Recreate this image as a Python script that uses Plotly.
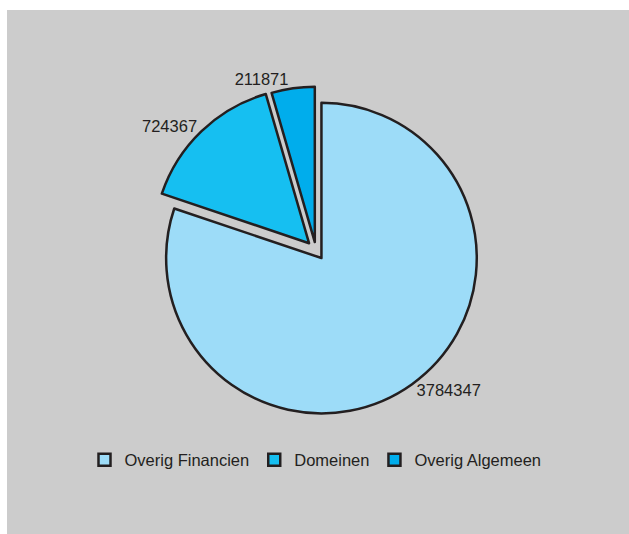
import plotly.graph_objects as go

labels = ["Overig Financien", "Domeinen", "Overig Algemeen"]
values = [3784347, 724367, 211871]
colors = ["#9ddcf8", "#16bff1", "#00adec"]
pulls = [0.06, 0.065, 0.055]

W, H = 629, 534
ML, MT = 7, 10

fig = go.Figure(go.Pie(
    labels=labels,
    values=values,
    sort=False,
    direction="clockwise",
    rotation=0,
    pull=pulls,
    marker=dict(colors=colors, line=dict(color="#231f20", width=2.5)),
    textinfo="value",
    textposition="outside",
    texttemplate="%{value:d}",
    outsidetextfont=dict(family="Liberation Sans", size=16.5, color="#231f20"),
    domain=dict(x=[0.2293, 0.7643], y=[0.2254, 0.8567]),
    hoverinfo="label+value",
))

fig.update_layout(
    width=W, height=H,
    margin=dict(l=ML, t=MT, r=0, b=0, pad=0),
    paper_bgcolor="white",
    shapes=[dict(type="rect", xref="paper", yref="paper", x0=0, x1=1, y0=0, y1=1,
                 fillcolor="#cccccc", line=dict(width=0), layer="below")],
    showlegend=True,
    legend=dict(orientation="h", x=0.1246, y=0.141, xanchor="left", yanchor="middle",
                font=dict(family="Liberation Sans", size=16.5, color="#231f20"),
                bgcolor="rgba(0,0,0,0)"),
)

fig.write_html("out.html",
               config={"displayModeBar": False},
               post_script="document.body.style.margin='0';document.body.style.overflow='hidden';")
